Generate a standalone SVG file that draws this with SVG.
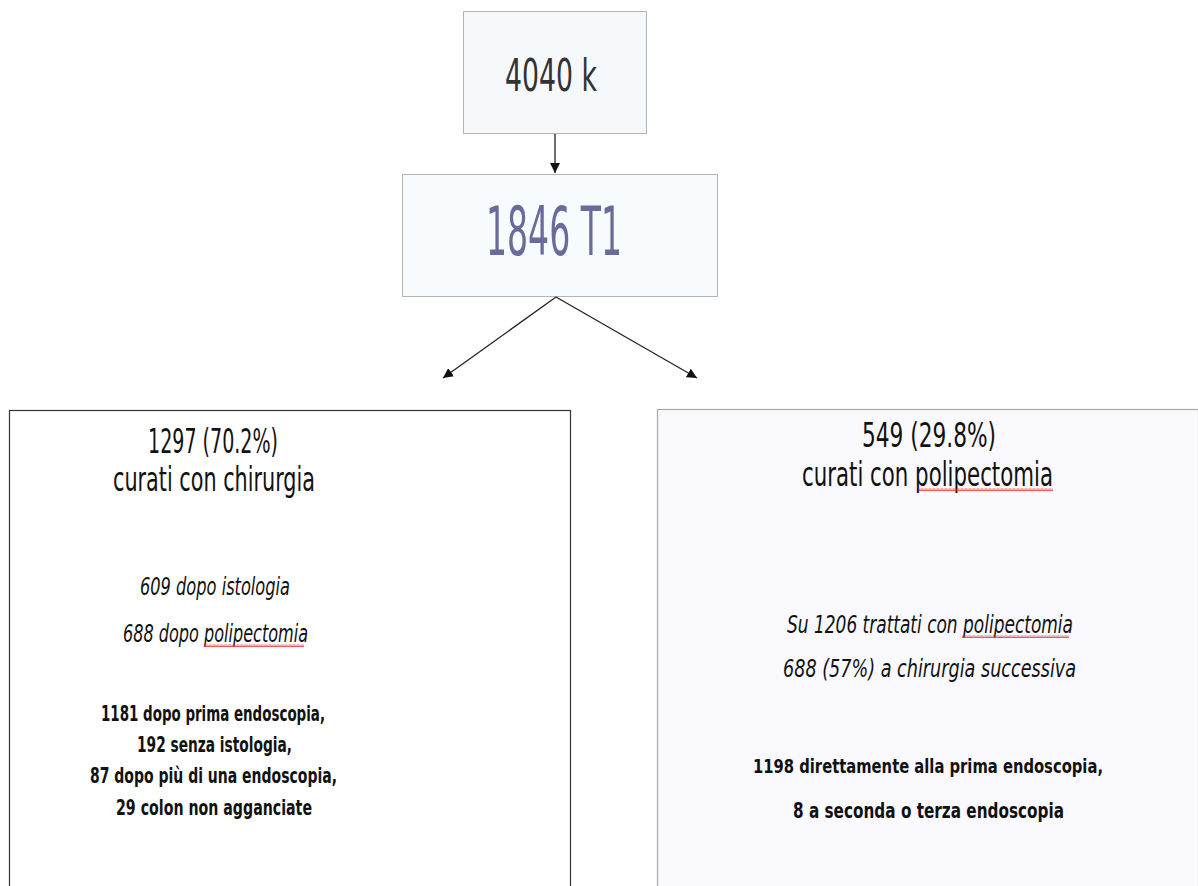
<svg xmlns="http://www.w3.org/2000/svg" width="1198" height="886" viewBox="0 0 1198 886">
<style>
  text { font-family: "Liberation Sans Narrow", "DejaVu Sans Condensed", "Liberation Sans", sans-serif; text-anchor: start; }
  .big { font-size: 34px; fill: #111; }
  .it { font-size: 25px; font-style: italic; fill: #111; }
  .bd { font-size: 22px; font-weight: bold; fill: #111; }
  .bds { font-size: 20px; }
  .conn { stroke: #222; stroke-width: 1.3; fill: none; }
</style>
<defs>
  <marker id="ah" viewBox="0 0 10 10" refX="10" refY="5" markerWidth="10" markerHeight="10" markerUnits="userSpaceOnUse" orient="auto">
    <path d="M0,0 L10,5 L0,10 Z" fill="#111"/>
  </marker>
  <pattern id="wave" width="4" height="3" patternUnits="userSpaceOnUse">
    <path d="M0,2.5 L1,0.5 L2,2.5 L3,0.5 L4,2.5" stroke="#e03030" stroke-width="0.8" fill="none"/>
  </pattern>
</defs>
<rect width="1198" height="886" fill="#ffffff"/>

<g id="node-4040k">
  <rect x="463.5" y="11.5" width="183" height="122" fill="#f5f9fc" stroke="#b4b4b4" stroke-width="1"/>
  <text x="505" y="91" font-size="45" fill="#333" textLength="92" lengthAdjust="spacingAndGlyphs">4040 k</text>
</g>

<g id="node-1846">
  <rect x="402.5" y="174.5" width="315" height="122" fill="#f8fbfd" stroke="#b4b4b4" stroke-width="1"/>
  <text x="486" y="255" font-size="67" fill="#6b6a9a" textLength="136" lengthAdjust="spacingAndGlyphs">1846 T1</text>
</g>

<g id="node-chirurgia">
  <rect x="9.5" y="410.5" width="561" height="490" fill="#ffffff" stroke="#333" stroke-width="1.2"/>
  <text class="big" x="148" y="453" textLength="130" lengthAdjust="spacingAndGlyphs">1297 (70.2%)</text>
  <text class="big" x="113" y="491" textLength="202" lengthAdjust="spacingAndGlyphs">curati con chirurgia</text>
  <text class="it" x="140" y="595" textLength="150" lengthAdjust="spacingAndGlyphs">609 dopo istologia</text>
  <text class="it" x="123" y="642" textLength="185" lengthAdjust="spacingAndGlyphs">688 dopo polipectomia</text>
  <rect x="204" y="644" width="100" height="3" fill="url(#wave)"/>
  <text class="bd" x="101" y="721" textLength="224" lengthAdjust="spacingAndGlyphs">1181 dopo prima endoscopia,</text>
  <text class="bd" x="137" y="752" textLength="155" lengthAdjust="spacingAndGlyphs">192 senza istologia,</text>
  <text class="bd" x="90" y="783" textLength="247" lengthAdjust="spacingAndGlyphs">87 dopo più di una endoscopia,</text>
  <text class="bd" x="116" y="815" textLength="196" lengthAdjust="spacingAndGlyphs">29 colon non agganciate</text>
</g>

<g id="node-polipectomia">
  <rect x="657.5" y="409.5" width="541" height="490" fill="#f9f9fe" stroke="#aaaaaa" stroke-width="1.2"/>
  <text class="big" x="862" y="447" textLength="134" lengthAdjust="spacingAndGlyphs">549 (29.8%)</text>
  <text class="big" x="802" y="486" textLength="251" lengthAdjust="spacingAndGlyphs">curati con polipectomia</text>
  <rect x="919" y="488" width="134" height="3" fill="url(#wave)"/>
  <text class="it" x="787" y="633" textLength="286" lengthAdjust="spacingAndGlyphs">Su 1206 trattati con polipectomia</text>
  <rect x="962" y="635" width="107" height="3" fill="url(#wave)"/>
  <text class="it" x="783" y="677" textLength="293" lengthAdjust="spacingAndGlyphs">688 (57%) a chirurgia successiva</text>
  <text class="bd bds" x="753" y="773" textLength="350" lengthAdjust="spacingAndGlyphs">1198 direttamente alla prima endoscopia,</text>
  <text class="bd" x="793" y="818" textLength="271" lengthAdjust="spacingAndGlyphs">8 a seconda o terza endoscopia</text>
</g>

<g id="connectors">
  <line class="conn" x1="555" y1="134" x2="555" y2="173" marker-end="url(#ah)"/>
  <line class="conn" x1="556" y1="297" x2="443" y2="378" marker-end="url(#ah)"/>
  <line class="conn" x1="556" y1="297" x2="697" y2="378" marker-end="url(#ah)"/>
</g>
</svg>
